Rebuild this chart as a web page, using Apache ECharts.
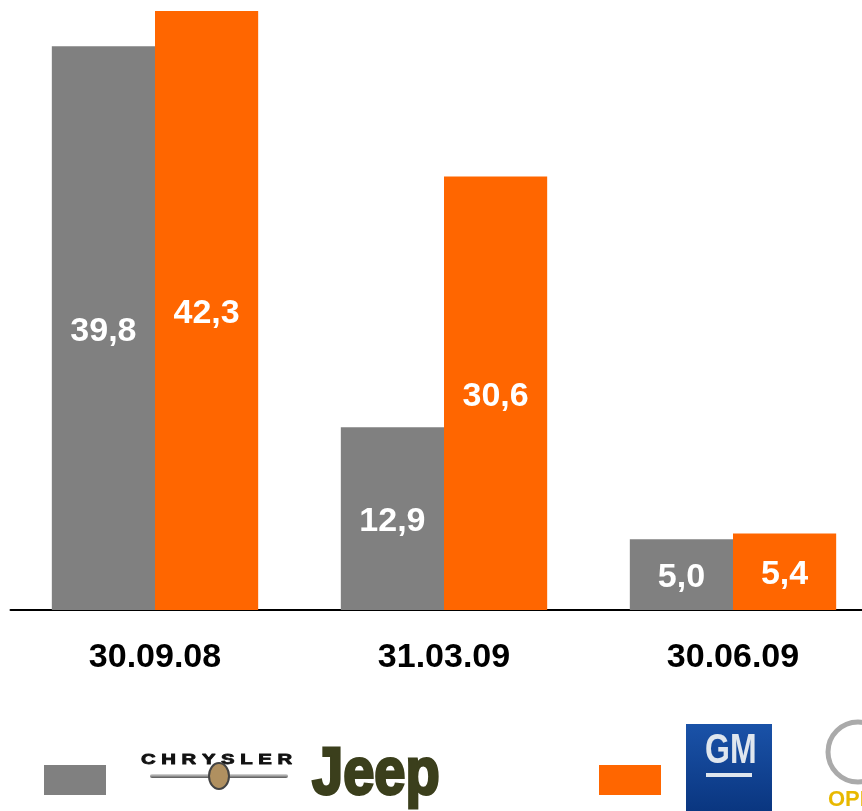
<!DOCTYPE html>
<html><head><meta charset="utf-8">
<script src="https://cdn.jsdelivr.net/npm/echarts@6/dist/echarts.min.js"></script>
<style>html,body{margin:0;padding:0;background:#fff;overflow:hidden;width:862px;height:811px}#c{width:880px;height:811px}</style>
</head><body><div id="c"></div>
<script>
const categories = ['30.09.08', '31.03.09', '30.06.09'];
const chryslerValues = [39.8, 12.9, 5.0];
const gmValues = [42.3, 30.6, 5.4];
const chart = echarts.init(document.getElementById('c'), null, {renderer: 'canvas'});
const fmt = p => p.value.toFixed(1).replace('.', ',');
const lbl = {show: true, position: 'inside', color: '#fff', fontSize: 34, fontWeight: 'bold', fontFamily: 'Liberation Sans, Arial, sans-serif', formatter: fmt, offset: [0, 3]};
chart.setOption({
  animation: false,
  grid: {left: 10.5, width: 867, top: 1, bottom: 201},
  xAxis: {type: 'category', data: categories,
    axisLine: {lineStyle: {color: '#000', width: 2}}, axisTick: {show: false},
    axisLabel: {color: '#000', fontSize: 34, fontWeight: 'bold', fontFamily: 'Liberation Sans, Arial, sans-serif', margin: 31}},
  yAxis: {type: 'value', min: 0, max: 43, show: false, splitLine: {show: false}},
  series: [
    {name: 'Chrysler', type: 'bar', data: chryslerValues, itemStyle: {color: '#808080'}, barGap: '0%', barCategoryGap: '28.6%', label: lbl},
    {name: 'GM', type: 'bar', data: gmValues, itemStyle: {color: '#FF6600'}, label: lbl}
  ],
  graphic: [
    {type: 'rect', shape: {x: 44, y: 765, width: 62, height: 30}, style: {fill: '#808080'}},
    {type: 'rect', shape: {x: 599, y: 765, width: 62, height: 30}, style: {fill: '#FF6600'}},
    {type: 'text', x: 141, y: 753, scaleX: 1.45, style: {text: 'C H R Y S L E R', font: 'bold 14px Liberation Sans, Arial', fill: '#111', stroke: '#111', lineWidth: 0.8}},
    {type: 'rect', shape: {x: 150, y: 774, width: 138, height: 4, r: 2}, style: {fill: {type: 'linear', x: 0, y: 0, x2: 0, y2: 1, colorStops: [{offset: 0, color: '#ddd'}, {offset: 1, color: '#555'}]}}},
    {type: 'ellipse', shape: {cx: 219, cy: 776, rx: 10, ry: 13}, style: {fill: '#b09060', stroke: '#444', lineWidth: 2}},
    {type: 'text', x: 312, y: 742, scaleY: 1.2, style: {text: 'Jeep', font: 'bold 56px Liberation Sans Narrow, Arial Narrow, Liberation Sans', fill: '#3b3f1c', stroke: '#3b3f1c', lineWidth: 2.5}},
    {type: 'rect', shape: {x: 686, y: 724, width: 86, height: 87}, style: {fill: {type: 'linear', x: 0, y: 0, x2: 0, y2: 1, colorStops: [{offset: 0, color: '#1a52a8'}, {offset: 1, color: '#0a3680'}]}}},
    {type: 'text', x: 705, y: 731, scaleY: 1.3, style: {text: 'GM', font: 'bold 32px Liberation Sans Narrow, Arial Narrow, Liberation Sans', fill: '#dfe6ee'}},
    {type: 'rect', shape: {x: 706, y: 773, width: 46, height: 4}, style: {fill: '#dfe6ee'}},
    {type: 'circle', shape: {cx: 858, cy: 752, r: 30}, style: {fill: 'none', stroke: '#aaa', lineWidth: 5}},
    {type: 'text', x: 828, y: 789, style: {text: 'OPEL', font: 'bold 22px Liberation Sans', fill: '#e8b800'}}
  ]
});
</script></body></html>
